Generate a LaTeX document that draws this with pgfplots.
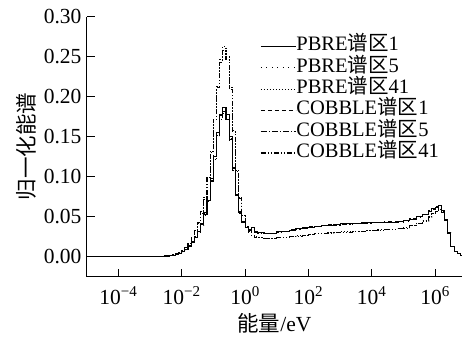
\documentclass[border=0pt]{standalone}
\usepackage{pgfplots}
\usepackage{pgfplotstable}
\pgfplotsset{compat=1.18}
\usepackage{fontspec}
\setmainfont{Liberation Serif}
\newfontfamily\cjk{Noto Sans CJK SC}
\pgfplotstableread{
E        p1      p5      p41     c1      c5      c41
1e-5     0       0       0       0       0       0
1e-4     0       0       0       0       0       0
1e-3     0.0003  0.0003  0.0003  0.0003  0.0003  0.0003
2.51e-3  0.0008  0.0008  0.0009  0.0008  0.0008  0.0009
3.98e-3  0.0012  0.0012  0.0014  0.0013  0.0012  0.0014
5.01e-3  0.002   0.002   0.002   0.0022  0.002   0.0022
6.31e-3  0.003   0.003   0.0035  0.0032  0.003   0.0036
7.94e-3  0.004   0.004   0.005   0.0043  0.0041  0.0052
1e-2     0.006   0.006   0.007   0.0065  0.0062  0.0075
1.26e-2  0.009   0.0088  0.011   0.0095  0.009   0.0115
1.58e-2  0.013   0.0128  0.016   0.0138  0.0132  0.0168
2.0e-2   0.018   0.0176  0.023   0.019   0.0182  0.024
2.51e-2  0.024   0.0235  0.031   0.0255  0.0244  0.0325
3.16e-2  0.031   0.0305  0.041   0.0328  0.0315  0.043
3.98e-2  0.040   0.0393  0.054   0.042   0.0405  0.0565
5.01e-2  0.053   0.052   0.072   0.0555  0.0535  0.074
6.31e-2  0.070   0.0685  0.097   0.073   0.0705  0.099
7.94e-2  0.095   0.093   0.130   0.098   0.0945  0.132
1e-1     0.125   0.122   0.172   0.127   0.123   0.172
1.26e-1  0.155   0.151   0.213   0.155   0.151   0.211
1.58e-1  0.178   0.174   0.247   0.176   0.172   0.243
2.0e-1   0.187   0.183   0.263   0.182   0.179   0.258
2.51e-1  0.178   0.175   0.250   0.174   0.171   0.246
3.16e-1  0.150   0.148   0.212   0.147   0.145   0.209
3.98e-1  0.112   0.110   0.158   0.110   0.108   0.156
5.01e-1  0.078   0.077   0.108   0.077   0.076   0.107
6.31e-1  0.056   0.055   0.074   0.055   0.054   0.073
7.94e-1  0.044   0.043   0.052   0.043   0.0425  0.051
1.0      0.037   0.036   0.038   0.0365  0.036   0.0375
1.26     0.034   0.033   0.031   0.0335  0.033   0.0305
1.58     0.036   0.034   0.027   0.032   0.0315  0.0265
2.0      0.031   0.0305  0.025   0.0305  0.030   0.0245
2.51     0.030   0.0295  0.024   0.0298  0.0292  0.0235
3.98     0.029   0.0288  0.023   0.0292  0.0286  0.0228
6.31     0.029   0.0288  0.023   0.0293  0.0287  0.0228
10       0.031   0.0305  0.024   0.031   0.0305  0.0236
15.8     0.032   0.0315  0.0245  0.032   0.0316  0.0242
25.1     0.033   0.0326  0.025   0.0335  0.0328  0.0248
39.8     0.035   0.0345  0.026   0.035   0.0346  0.0258
63.1     0.036   0.0356  0.027   0.0362  0.0356  0.0267
100      0.037   0.0366  0.028   0.0372  0.0366  0.0276
158      0.038   0.0376  0.029   0.0382  0.0376  0.0286
251      0.039   0.0385  0.029   0.039   0.0385  0.0288
398      0.0395  0.039   0.030   0.0397  0.0391  0.0296
631      0.040   0.0396  0.030   0.0402  0.0396  0.0298
1000     0.041   0.0405  0.031   0.041   0.0405  0.0306
1585     0.041   0.0407  0.031   0.0413  0.0407  0.0308
2512     0.042   0.0415  0.032   0.0418  0.0413  0.0316
3981     0.042   0.0417  0.032   0.0422  0.0417  0.0318
6310     0.0425  0.0421  0.033   0.0426  0.0421  0.0326
1e4      0.043   0.0425  0.033   0.043   0.0425  0.0328
1.58e4   0.043   0.0426  0.0335  0.0432  0.0427  0.0332
2.51e4   0.0432  0.0428  0.034   0.0434  0.0429  0.0337
3.98e4   0.043   0.0428  0.0345  0.0435  0.043   0.0342
6.31e4   0.0435  0.0431  0.035   0.044   0.0435  0.0347
1e5      0.045   0.0446  0.036   0.0452  0.0447  0.0357
1.58e5   0.047   0.0466  0.039   0.0473  0.0468  0.0386
2.51e5   0.050   0.0496  0.042   0.0503  0.0497  0.0416
3.98e5   0.053   0.0526  0.045   0.0533  0.0527  0.0446
6.31e5   0.057   0.0566  0.050   0.0572  0.0567  0.0496
7.94e5   0.060   0.0595  0.054   0.0602  0.0596  0.0535
1e6      0.062   0.0615  0.057   0.0622  0.0616  0.0566
1.26e6   0.064   0.0633  0.060   0.0638  0.0632  0.0595
1.58e6   0.058   0.0575  0.056   0.0578  0.0574  0.0555
2.0e6    0.047   0.0466  0.045   0.0468  0.0465  0.0447
2.51e6   0.030   0.0298  0.029   0.0299  0.0297  0.0288
3.16e6   0.013   0.0129  0.0126  0.013   0.0129  0.0125
3.98e6   0.007   0.0069  0.0068  0.007   0.0069  0.0068
5.01e6   0.004   0.004   0.004   0.004   0.004   0.004
6.31e6   0.002   0.002   0.002   0.002   0.002   0.002
7.94e6   0.001   0.001   0.001   0.001   0.001   0.001
1e7      0.001   0.001   0.001   0.001   0.001   0.001
}\spectra
\pgfplotsset{
  legend image code/.code={\draw[#1] (0pt,0pt) -- (35pt,0pt);},
}
\begin{document}
\fontsize{21.5}{25}\selectfont
\begin{tikzpicture}
\begin{axis}[
  scale only axis,
  width=375.3pt, height=260pt,
  xmode=log,
  xmin=1e-5, xmax=7.08e6,
  ymin=-0.025, ymax=0.30,
  axis lines=left,
  axis line style={-, line width=0.9pt},
  tick align=inside,
  major tick length=8pt,
  tick style={line width=0.9pt, black},
  minor tick num=0,
  xminorticks=false,
  xtick={1e-4,1e-2,1,1e2,1e4,1e6},
  xticklabels={10\textsuperscript{−4},10\textsuperscript{−2},10\textsuperscript{0},10\textsuperscript{2},10\textsuperscript{4},10\textsuperscript{6}},
  ytick={0,0.05,0.10,0.15,0.20,0.25,0.30},
  yticklabels={0.00,0.05,0.10,0.15,0.20,0.25,0.30},
  xticklabel style={anchor=north, inner sep=0pt, yshift=-10pt, font=\fontsize{21.5}{25}\selectfont},
  yticklabel style={anchor=east, inner sep=0pt, xshift=-5pt, font=\fontsize{21.5}{25}\selectfont},
  xlabel={{\cjk 能量}/eV},
  ylabel={{\cjk 归一化能谱}},
  xlabel style={at={(axis description cs:0.5,-0.178)}, anchor=center, inner sep=0pt, font=\fontsize{21.5}{25}\selectfont},
  ylabel style={at={(axis description cs:-0.160,0.5)}, anchor=center, inner sep=0pt, rotate=0, font=\fontsize{21.5}{25}\selectfont},
  legend style={draw=none, fill=none, at={(axis description cs:0.462,0.927)}, anchor=north west,
    inner sep=0pt, row sep=0pt, column sep=0pt,
    nodes={inner sep=0pt, text height=15pt, text depth=6.3pt, font=\fontsize{20.5}{24}\selectfont}},
  legend cell align=left,
  every axis plot/.append style={line width=1.1pt, black, const plot mark left},
]
\addplot[solid] table[x=E,y=p1] {\spectra};
\addplot[dash pattern=on 1pt off 4.5pt] table[x=E,y=p5] {\spectra};
\addplot[dash pattern=on 1pt off 2pt] table[x=E,y=p41] {\spectra};
\addplot[dash pattern=on 4pt off 3pt] table[x=E,y=c1] {\spectra};
\addplot[dash pattern=on 6pt off 2pt on 1pt off 2pt] table[x=E,y=c5] {\spectra};
\addplot[dash pattern=on 5pt off 2pt on 1pt off 2pt on 1pt off 2pt] table[x=E,y=c41] {\spectra};
\legend{PBRE{\cjk 谱区}1,PBRE{\cjk 谱区}5,PBRE{\cjk 谱区}41,COBBLE{\cjk 谱区}1,COBBLE{\cjk 谱区}5,COBBLE{\cjk 谱区}41}
\coordinate (ll) at (rel axis cs:0,0);
\coordinate (ur) at (rel axis cs:1,1);
\end{axis}
\pgfresetboundingbox
\path[use as bounding box] ([xshift=-86.7pt,yshift=-60.3pt]ll) rectangle ([yshift=16.7pt]ur);
\end{tikzpicture}
\end{document}
